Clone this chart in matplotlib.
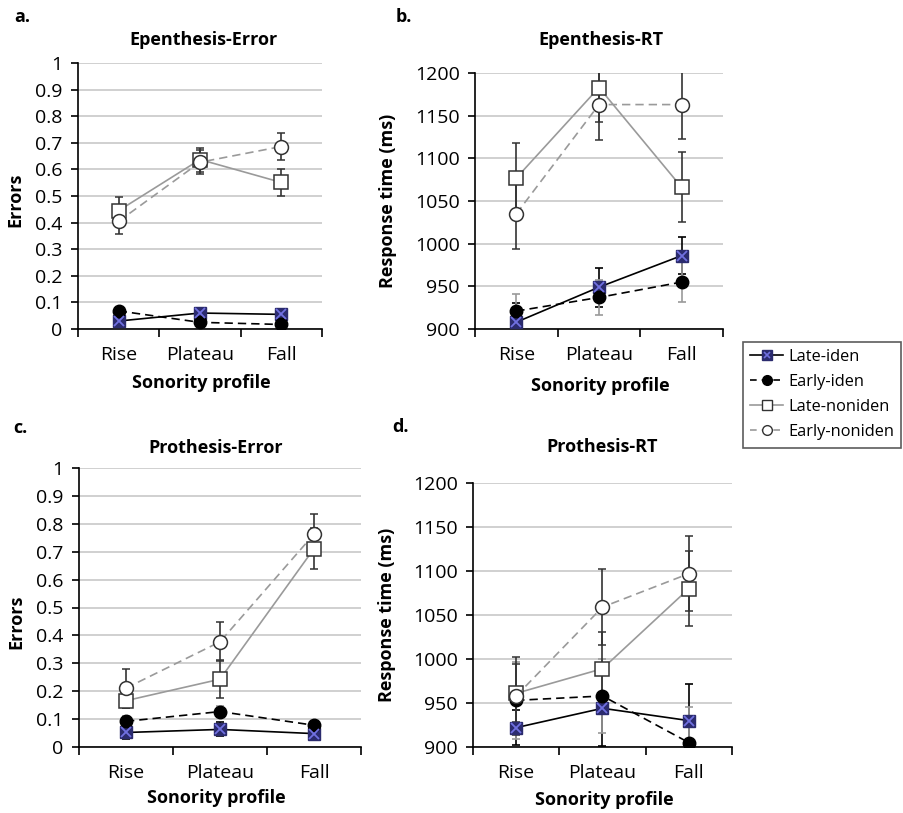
import numpy as np
import matplotlib
matplotlib.use("Agg")
from matplotlib import pyplot as plt
from matplotlib.lines import Line2D

plt.rcParams['font.family'] = ['Open Sans', 'DejaVu Sans']

profiles = ["Rise", "Plateau", "Fall"]
series = ["Late-iden", "Early-iden", "Late-noniden", "Early-noniden"]

# Epenthesis - error rate
ep_err_late_iden = [0.030, 0.060, 0.055]
ep_err_early_iden = [0.068, 0.025, 0.017]
ep_err_late_non = [0.445, 0.637, 0.551]
ep_err_early_non = [0.405, 0.627, 0.686]
ep_err_late_iden_se = [0.010, 0.012, 0.010]
ep_err_early_iden_se = [0.010, 0.010, 0.008]
ep_err_late_non_se = [0.050, 0.045, 0.050]
ep_err_early_non_se = [0.047, 0.045, 0.050]

# Epenthesis - response time
ep_rt_late_iden = [908, 949, 986]
ep_rt_early_iden = [921, 937, 955]
ep_rt_late_non = [1077, 1183, 1066]
ep_rt_early_non = [1035, 1163, 1163]
ep_rt_late_iden_se = [22, 23, 22]
ep_rt_early_iden_se = [20, 21, 23]
ep_rt_late_non_se = [41, 41, 41]
ep_rt_early_non_se = [41, 41, 40]

# Prothesis - error rate
pr_err_late_iden = [0.052, 0.063, 0.048]
pr_err_early_iden = [0.092, 0.127, 0.078]
pr_err_late_non = [0.166, 0.243, 0.711]
pr_err_early_non = [0.211, 0.377, 0.763]
pr_err_late_iden_se = [0.025, 0.025, 0.020]
pr_err_early_iden_se = [0.020, 0.020, 0.015]
pr_err_late_non_se = [0.028, 0.068, 0.073]
pr_err_early_non_se = [0.070, 0.070, 0.072]

# Prothesis - response time
pr_rt_late_iden = [922, 944, 930]
pr_rt_early_iden = [953, 958, 905]
pr_rt_late_non = [961, 989, 1080]
pr_rt_early_non = [958, 1059, 1097]
pr_rt_late_iden_se = [20, 43, 42]
pr_rt_early_iden_se = [44, 42, 41]
pr_rt_late_non_se = [33, 42, 43]
pr_rt_early_non_se = [44, 43, 43]

W, H = 904, 813
fig = plt.figure(figsize=(W / 100, H / 100), dpi=100)


def add_ax(l, t, r, b):
    return fig.add_axes([l / W, 1 - b / H, (r - l) / W, (b - t) / H])


def ftext(x, y, s, **kw):
    fig.text(x / W, 1 - y / H, s, **kw)


x = np.arange(len(profiles)) + 0.5
navy = "#2b2b6e"
gray = "#9a9a9a"


def draw_panel(ax, vals, ses, ylim, step, fmt):
    li, ei, ln, en = vals
    lis, eis, lns, ens = ses
    ax.errorbar(x, li, yerr=lis, color="black", lw=1.2, ecolor="black",
                elinewidth=1.2, capsize=3, capthick=1.2, zorder=3,
                marker="s", ms=9, mfc=navy, mec=navy)
    ax.plot(x, li, ls="none", marker="x", ms=7, mew=1.3, color="#7070e0", zorder=4)
    ax.errorbar(x, ei, yerr=eis, color="black", lw=1.2, ls=(0, (5, 3)),
                ecolor=gray, elinewidth=1.2, capsize=3, capthick=1.2, zorder=3,
                marker="o", ms=9, mfc="black", mec="black")
    ax.errorbar(x, ln, yerr=lns, color=gray, lw=1.2, ecolor="#333333",
                elinewidth=1.2, capsize=3, capthick=1.2, zorder=3,
                marker="s", ms=10, mfc="white", mec="#333333", mew=1.1)
    ax.errorbar(x, en, yerr=ens, color=gray, lw=1.2, ls=(0, (5, 3)),
                ecolor="#333333", elinewidth=1.2, capsize=3, capthick=1.2, zorder=3,
                marker="o", ms=10, mfc="white", mec="#333333", mew=1.1)
    ax.set_xlim(0, 3)
    ax.set_ylim(*ylim)
    ticks = np.arange(ylim[0], ylim[1] + step / 2, step)
    ax.set_yticks(ticks)
    ax.set_yticklabels([fmt(t) for t in ticks])
    ax.set_xticks([0, 1, 2, 3])
    ax.set_xticklabels([])
    ax.set_xticks(x, minor=True)
    ax.set_xticklabels(profiles, minor=True)
    ax.tick_params(axis="x", which="major", length=6, width=1.2, direction="out")
    ax.tick_params(axis="x", which="minor", length=0, pad=12, labelsize=14)
    ax.tick_params(axis="y", length=5, width=1.2, direction="out", pad=6, labelsize=14)
    ax.grid(axis="y", color="#c8c8c8", lw=1.2)
    ax.set_axisbelow(True)
    for s in ["top", "right"]:
        ax.spines[s].set_visible(False)
    for s in ["left", "bottom"]:
        ax.spines[s].set_linewidth(1.2)


def err_fmt(t):
    return "0" if abs(t) < 1e-9 else ("1" if abs(t - 1) < 1e-9 else f"{t:.1f}")


def rt_fmt(t):
    return f"{int(round(t))}"


ax_a = add_ax(78, 63, 322, 329)
draw_panel(ax_a,
           [ep_err_late_iden, ep_err_early_iden, ep_err_late_non, ep_err_early_non],
           [ep_err_late_iden_se, ep_err_early_iden_se, ep_err_late_non_se, ep_err_early_non_se],
           (0, 1), 0.1, err_fmt)
ax_b = add_ax(475, 73, 723, 329)
draw_panel(ax_b,
           [ep_rt_late_iden, ep_rt_early_iden, ep_rt_late_non, ep_rt_early_non],
           [ep_rt_late_iden_se, ep_rt_early_iden_se, ep_rt_late_non_se, ep_rt_early_non_se],
           (900, 1200), 50, rt_fmt)
ax_c = add_ax(79, 468, 361, 747)
draw_panel(ax_c,
           [pr_err_late_iden, pr_err_early_iden, pr_err_late_non, pr_err_early_non],
           [pr_err_late_iden_se, pr_err_early_iden_se, pr_err_late_non_se, pr_err_early_non_se],
           (0, 1), 0.1, err_fmt)
ax_d = add_ax(473, 483, 732, 747)
draw_panel(ax_d,
           [pr_rt_late_iden, pr_rt_early_iden, pr_rt_late_non, pr_rt_early_non],
           [pr_rt_late_iden_se, pr_rt_early_iden_se, pr_rt_late_non_se, pr_rt_early_non_se],
           (900, 1200), 50, rt_fmt)

# panel letters, titles, axis labels
bold = dict(fontweight="bold", fontsize=13, ha="center", va="center")
ftext(22, 17, "a.", **bold)
ftext(404, 17, "b.", **bold)
ftext(20, 428, "c.", **bold)
ftext(401, 427, "d.", **bold)
ftext(204, 40, "Epenthesis-Error", **bold)
ftext(601, 40, "Epenthesis-RT", **bold)
ftext(216, 448, "Prothesis-Error", **bold)
ftext(602, 447, "Prothesis-RT", **bold)
for xx, yy in [(201, 383), (600, 386), (216, 798), (604, 800)]:
    ftext(xx, yy, "Sonority profile", **bold)
ftext(15, 200, "Errors", rotation=90, **bold)
ftext(16, 622, "Errors", rotation=90, **bold)
ftext(388, 201, "Response time (ms)", rotation=90, **bold)
ftext(387, 615, "Response time (ms)", rotation=90, **bold)

# legend
h_li = (Line2D([], [], color="black", lw=1.2, marker="s", ms=7, mfc=navy, mec=navy),
        Line2D([], [], ls="none", marker="x", ms=5, mew=1.2, color="#7070e0"))
h_ei = Line2D([], [], color="black", lw=1.2, ls=(0, (4, 3)), marker="o", ms=7, mfc="black", mec="black")
h_ln = Line2D([], [], color=gray, lw=1.2, marker="s", ms=7, mfc="white", mec="#333333")
h_en = Line2D([], [], color=gray, lw=1.2, ls=(0, (4, 3)), marker="o", ms=7, mfc="white", mec="#333333")
leg = fig.legend([h_li, h_ei, h_ln, h_en], series, loc="upper left",
                 bbox_to_anchor=(743 / W, 1 - 342 / H), fontsize=11.8,
                 frameon=True, fancybox=False, edgecolor="#333333",
                 handlelength=2.0, handletextpad=0.3, labelspacing=0.55,
                 borderpad=0.45, borderaxespad=0, handleheight=0.8)
leg.get_frame().set_linewidth(1.2)

fig.savefig("out.png", dpi=100)
